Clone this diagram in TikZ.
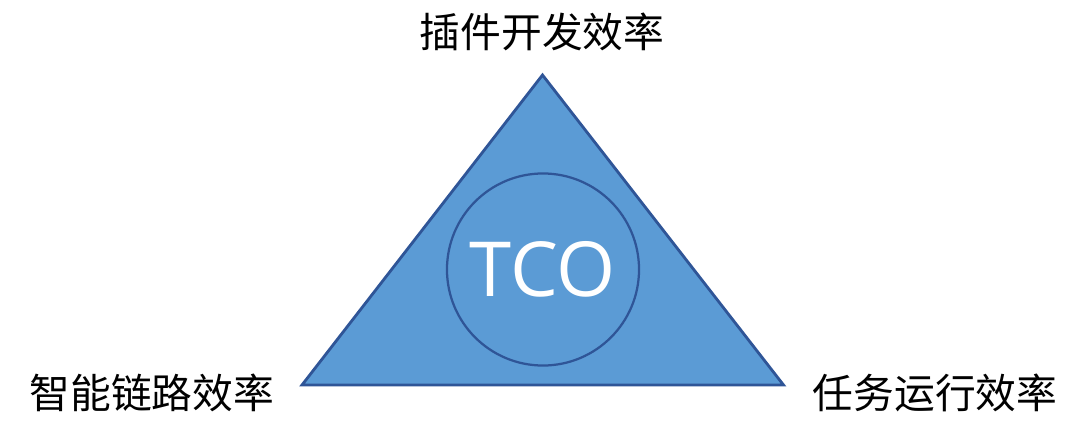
\documentclass[tikz,border=0pt]{standalone}
\usepackage{fontspec}
\setmainfont{Open Sans}
\newfontfamily\cjk{Noto Sans CJK SC}
\usepackage{tikz}
\usetikzlibrary{positioning}
\definecolor{tcofill}{HTML}{5B9BD5}
\definecolor{tcoline}{HTML}{2F5597}

\begin{document}
\begin{tikzpicture}[
    x=0.025cm, y=-0.025cm,
    edge/.style={draw=tcoline, line width=2pt, line join=miter},
    label/.style={font=\cjk\fontsize{29}{34}\selectfont, text=black, inner sep=0pt},
    core/.style={circle, draw=tcoline, line width=1.6pt, fill=tcofill, inner sep=0pt,
                 font=\fontsize{54}{60}\selectfont, text=white}
]
\useasboundingbox (0,0) rectangle (1080,433);

% triangle corners
\coordinate (top) at (542.5,75);
\coordinate (left) at (302,385);
\coordinate (right) at (783.5,385);
\filldraw[edge, fill=tcofill] (top) -- (right) -- (left) -- cycle;

% centre
\node[core, minimum size=4.8cm] (tco) at (543,269.5) {TCO};

% corner labels
\node[label] (plugin) at (542,32) {插件开发效率};
\node[label] (link) at (152,393) {智能链路效率};
\node[label] (task) at (935,393) {任务运行效率};

\end{tikzpicture}
\end{document}
